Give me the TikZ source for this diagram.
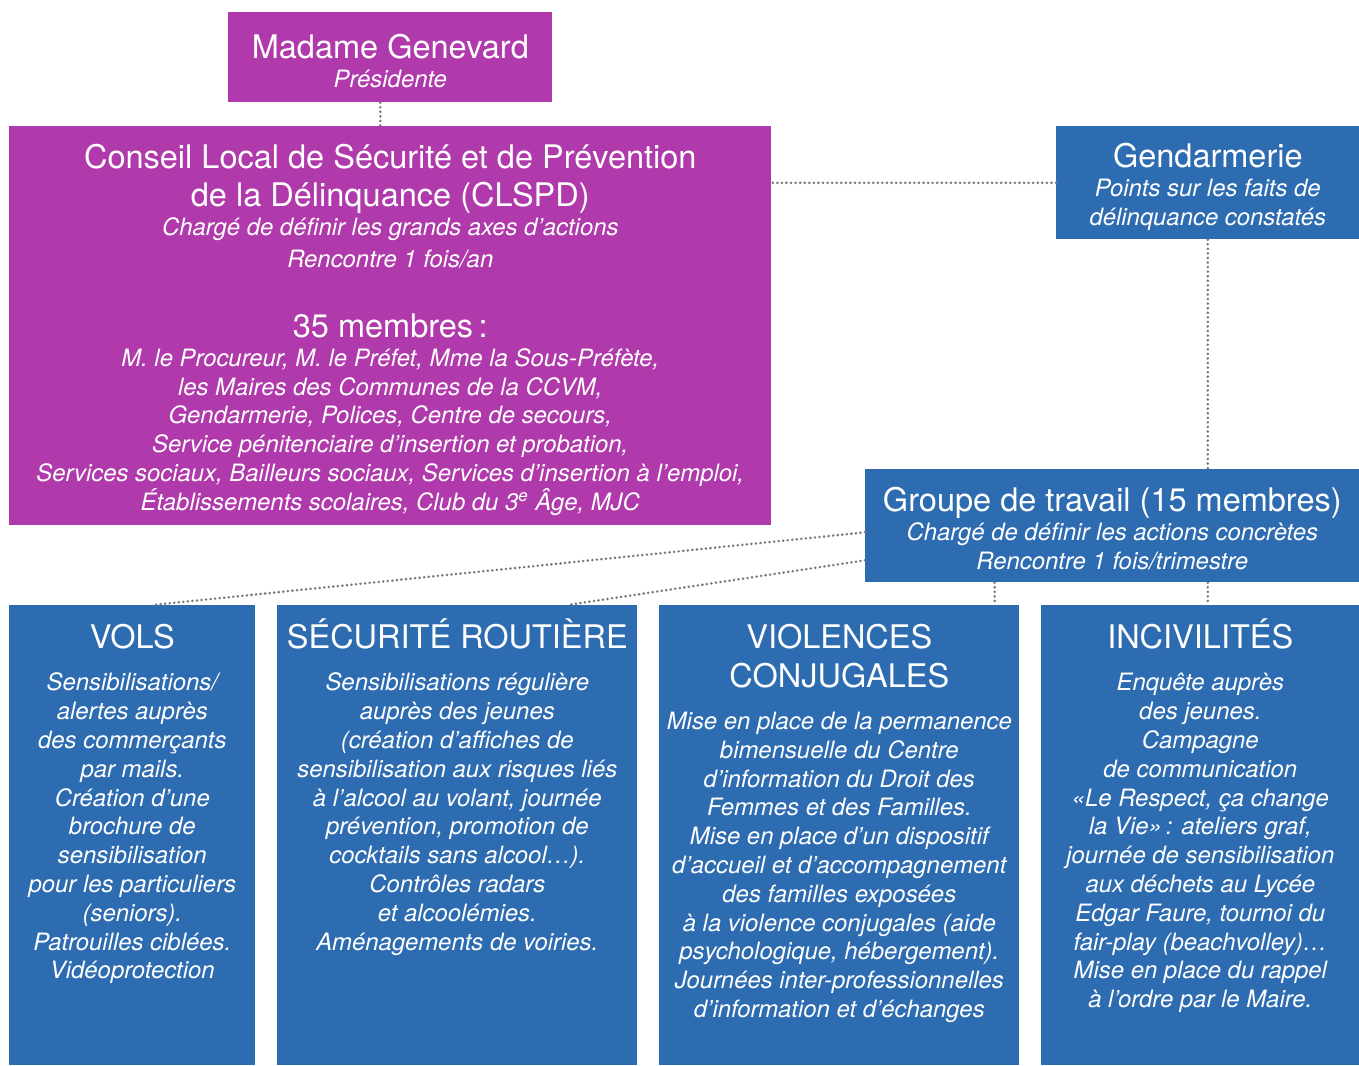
\documentclass[tikz,border=0pt]{standalone}
\usepackage{fontspec}
\setmainfont{TeX Gyre Heros}
\usepackage{tikz}
\definecolor{clspurple}{HTML}{B03AAB}
\definecolor{clsblue}{HTML}{2E6CB2}
\definecolor{dotgray}{HTML}{767676}
\tikzstyle{purplebox} = [fill=clspurple, text=white, rectangle, inner sep=0pt, anchor=north west]
\tikzstyle{bluebox} = [fill=clsblue, text=white, rectangle, inner sep=0pt, anchor=north west]
\tikzstyle{link} = [draw=dotgray, line width=1.6pt, line cap=round, dash pattern=on 0pt off 2.6pt]
\newcommand{\bigtext}{\fontsize{18.5}{22}\selectfont}
\newcommand{\smalltext}{\fontsize{13.6}{16.4}\selectfont\itshape}
\newcommand{\boxtitle}[1]{{\bigtext\rule{0pt}{24.6pt}#1\par}\vspace{7.6pt}}

\begin{document}
\begin{tikzpicture}[x=0.02cm, y=-0.02cm]
                \useasboundingbox (0,0) rectangle (1359,1065);
                \node [purplebox] (pres) at (228,12) {%
                    \begin{minipage}[c][1.8cm][c]{6.48cm}\centering
                        \vspace*{4.5pt}
                        {\bigtext Madame Genevard\par}
                        {\smalltext Présidente\par}
                    \end{minipage}
                };
                \node [purplebox] (clspd) at (9,126) {%
                    \begin{minipage}[c][7.98cm][c]{15.24cm}\centering
                        \vspace*{4.5pt}
                        {\bigtext Conseil Local de Sécurité et de Prévention\\ de la Délinquance (CLSPD)\par}
                        {\smalltext Chargé de définir les grands axes d’actions\\[1.6pt] Rencontre 1 fois/an\par}
                        \vspace{18pt}
                        {\bigtext 35 membres\,:\par}
                        {\smalltext M. le Procureur, M. le Préfet, Mme la Sous-Préfète,\\
                        les Maires des Communes de la CCVM,\\
                        Gendarmerie, Polices, Centre de secours,\\
                        Service pénitenciaire d’insertion et probation,\\
                        Services sociaux, Bailleurs sociaux, Services d’insertion à l’emploi,\\
                        Établissements scolaires, Club du 3\textsuperscript{e} Âge, MJC\par}
                    \end{minipage}
                };
                \node [bluebox] (gend) at (1056,126) {%
                    \begin{minipage}[c][2.26cm][c]{6.06cm}\centering
                        \vspace*{4.5pt}
                        {\bigtext Gendarmerie\par}
                        {\smalltext Points sur les faits de\\ délinquance constatés\par}
                    \end{minipage}
                };
                \node [bluebox] (groupe) at (865,469) {%
                    \begin{minipage}[c][2.26cm][c]{9.88cm}\centering
                        \vspace*{3pt}
                        {\bigtext Groupe de travail (15 membres)\par}
                        {\smalltext Chargé de définir les actions concrètes\\ Rencontre 1 fois/trimestre\par}
                    \end{minipage}
                };
                \node [bluebox] (vols) at (9,605) {%
                    \begin{minipage}[t][9.2cm][t]{4.92cm}\centering
                        \boxtitle{VOLS}
                        {\smalltext Sensibilisations/\\ alertes auprès\\ des commerçants\\ par mails.\\
                        Création d’une\\ brochure de\\ sensibilisation\\ pour les particuliers\\ (seniors).\\
                        Patrouilles ciblées.\\ Vidéoprotection\par}
                    \end{minipage}
                };
                \node [bluebox] (secu) at (277,605) {%
                    \begin{minipage}[t][9.2cm][t]{7.2cm}\centering
                        \boxtitle{SÉCURITÉ ROUTIÈRE}
                        {\smalltext Sensibilisations régulière\\ auprès des jeunes\\ (création d’affiches de\\
                        sensibilisation aux risques liés\\ à l’alcool au volant, journée\\ prévention, promotion de\\
                        cocktails sans alcool…).\\ Contrôles radars\\ et alcoolémies.\\ Aménagements de voiries.\par}
                    \end{minipage}
                };
                \node [bluebox] (viol) at (659,605) {%
                    \begin{minipage}[t][9.2cm][t]{7.2cm}\centering
                        \boxtitle{VIOLENCES\\ CONJUGALES}
                        {\smalltext Mise en place de la permanence\\ bimensuelle du Centre\\ d’information du Droit des\\
                        Femmes et des Familles.\\ Mise en place d’un dispositif\\ d’accueil et d’accompagnement\\
                        des familles exposées\\ à la violence conjugales (aide\\ psychologique, hébergement).\\
                        Journées inter-professionnelles\\ d’information et d’échanges\par}
                    \end{minipage}
                };
                \node [bluebox] (incv) at (1041,605) {%
                    \begin{minipage}[t][9.2cm][t]{6.36cm}\centering
                        \boxtitle{INCIVILITÉS}
                        {\smalltext Enquête auprès\\ des jeunes.\\ Campagne\\ de communication\\
                        «Le Respect, ça change\\ la Vie»\,: ateliers graf,\\ journée de sensibilisation\\
                        aux déchets au Lycée\\ Edgar Faure, tournoi du\\ fair-play (beachvolley)…\\
                        Mise en place du rappel\\ à l’ordre par le Maire.\par}
                    \end{minipage}
                };
                \draw [link] ([xshift=-0.2cm]pres.south) -- ([xshift=-0.2cm]pres.south |- clspd.north);
                \draw [link] (gend.west) -- (gend.west -| clspd.east);
                \draw [link] (gend.south) -- (gend.south |- groupe.north);
                \draw [link] ([yshift=-0.13cm]groupe.west) -- ([xshift=0.4cm]vols.north);
                \draw [link] ([yshift=-0.69cm]groupe.west) -- ([xshift=2.2cm]secu.north);
                \draw [link] ([xshift=-0.5cm]viol.north east |- groupe.south) -- ([xshift=-0.5cm]viol.north east);
                \draw [link] (gend.south |- groupe.south) -- (gend.south |- incv.north);
            \end{tikzpicture}
\end{document}
